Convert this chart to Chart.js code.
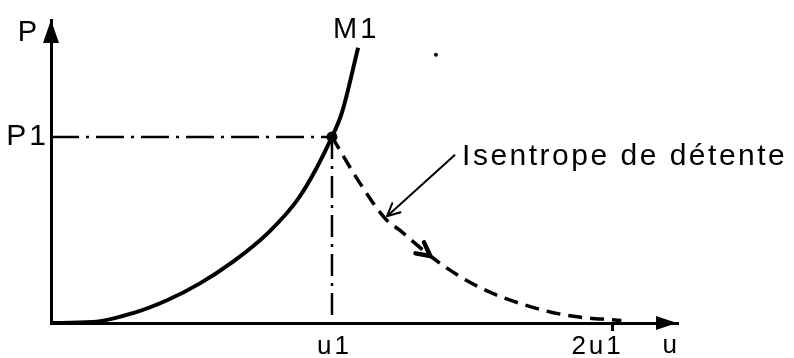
<!DOCTYPE html>
<html>
<head>
<meta charset="utf-8">
<style>
  html, body { margin: 0; padding: 0; background: #fff; }
  canvas { display: block; }
</style>
</head>
<body>
<canvas id="myChart" width="794" height="358"></canvas>
<script src="https://cdn.jsdelivr.net/npm/chart.js@4.4.0/dist/chart.umd.min.js"></script>
<script>
// u in units of u1, P in units of P1
const compU = [0, 0.149, 0.292, 0.413, 0.530, 0.648, 0.769, 0.886, 1.0, 1.036, 1.093];
const compP = [0, 0.005, 0.053, 0.122, 0.213, 0.330, 0.479, 0.681, 1.0, 1.133, 1.479];
const isenU = [1.0, 1.1, 1.19, 1.24, 1.35, 1.45, 1.57, 1.68, 1.78, 1.88, 1.99, 2.03];
const isenP = [1.0, 0.75, 0.56, 0.50, 0.36, 0.255, 0.16, 0.10, 0.058, 0.032, 0.018, 0.014];
const xTicks = [1, 2];
const xTickLabels = ['u1', '2u1'];
const yTicks = [1];
const yTickLabels = ['P1'];
const m1 = {u: 1, P: 1};
const noteFrom = {u: 1.438, P: 0.904};
const noteTo = {u: 1.196, P: 0.574};
const speck = {u: 1.37, P: 1.441};

const pts = (us, ps) => us.map((u, i) => ({x: u, y: ps[i]}));
const FONT = '"Liberation Sans", Arial, sans-serif';

function chevron(ctx, tx, ty, dx, dy, len, ang, width) {
    const a = Math.atan2(dy, dx);
    ctx.lineWidth = width;
    ctx.lineCap = 'round';
    ctx.lineJoin = 'round';
    ctx.beginPath();
    ctx.moveTo(tx - len * Math.cos(a - ang), ty - len * Math.sin(a - ang));
    ctx.lineTo(tx, ty);
    ctx.lineTo(tx - len * Math.cos(a + ang), ty - len * Math.sin(a + ang));
    ctx.stroke();
}

function tri(ctx, p) {
    ctx.beginPath();
    ctx.moveTo(p[0], p[1]);
    ctx.lineTo(p[2], p[3]);
    ctx.lineTo(p[4], p[5]);
    ctx.closePath();
    ctx.fill();
}

const overlay = {
    id: 'overlay',
    beforeDraw(chart) {
        chart.ctx.letterSpacing = '3px';
    },
    afterDraw(chart) {
        const {ctx, chartArea: a, scales: {x, y}} = chart;
        ctx.save();
        ctx.fillStyle = '#000';
        ctx.strokeStyle = '#000';
        // axis arrow heads
        const x0 = x.getPixelForValue(0), y0 = y.getPixelForValue(0);
        tri(ctx, [a.right, y0, a.right - 21, y0 - 7, a.right - 21, y0 + 7]);
        tri(ctx, [x0, a.top, x0 - 8, a.top + 23, x0 + 8, a.top + 23]);

        // arrow on the isentrope
        const k = 4;
        const tx = x.getPixelForValue(isenU[k]), ty = y.getPixelForValue(isenP[k]);
        const nx = x.getPixelForValue(isenU[k + 1]), ny = y.getPixelForValue(isenP[k + 1]);
        const px = x.getPixelForValue(isenU[k - 1]), py = y.getPixelForValue(isenP[k - 1]);
        chevron(ctx, tx, ty, nx - px, ny - py, 15, 0.48, 4.5);

        // annotation arrow head
        const ax = x.getPixelForValue(noteTo.u), ay = y.getPixelForValue(noteTo.P);
        const bx = x.getPixelForValue(noteFrom.u), by = y.getPixelForValue(noteFrom.P);
        chevron(ctx, ax, ay, ax - bx, ay - by, 14, 0.45, 2);

        // texts
        ctx.textBaseline = 'alphabetic';
        ctx.letterSpacing = '1px';
        ctx.font = '29px ' + FONT;
        ctx.textAlign = 'right';
        ctx.fillText('P', x0 - 13, a.top + 21);
        ctx.textAlign = 'left';
        ctx.letterSpacing = '3px';
        ctx.fillText('M1', x.getPixelForValue(1) + 1, a.top + 18);
        ctx.font = '30px ' + FONT;
        ctx.letterSpacing = '2.5px';
        ctx.fillText('Isentrope de détente', x.getPixelForValue(1.463), y.getPixelForValue(0.851));
        ctx.font = '26px ' + FONT;
        ctx.textAlign = 'right';
        ctx.letterSpacing = '0px';
        ctx.fillText('u', a.right, y0 + 30);
        ctx.restore();
    }
};

new Chart(document.getElementById('myChart').getContext('2d'), {
    type: 'scatter',
    data: {
        datasets: [
            {
                label: 'compression',
                data: pts(compU, compP),
                showLine: true,
                borderColor: '#000',
                borderWidth: 4,
                cubicInterpolationMode: 'monotone',
                pointRadius: 0
            },
            {
                label: 'isentrope',
                data: pts(isenU, isenP),
                showLine: true,
                borderColor: '#000',
                borderWidth: 3.5,
                borderDash: [14, 8],
                cubicInterpolationMode: 'monotone',
                pointRadius: 0
            },
            {
                label: 'P1',
                data: [{x: 0, y: m1.P}, {x: m1.u, y: m1.P}],
                showLine: true,
                borderColor: '#000',
                borderWidth: 2.5,
                borderDash: [28, 7, 3, 7],
                pointRadius: 0
            },
            {
                label: 'u1',
                data: [{x: m1.u, y: m1.P}, {x: m1.u, y: 0}],
                showLine: true,
                borderColor: '#000',
                borderWidth: 2.5,
                borderDash: [22, 7, 3, 7],
                pointRadius: 0
            },
            {
                label: 'note',
                data: [{x: noteFrom.u, y: noteFrom.P}, {x: noteTo.u, y: noteTo.P}],
                showLine: true,
                borderColor: '#000',
                borderWidth: 2,
                pointRadius: 0
            },
            {
                label: 'M1',
                data: [{x: m1.u, y: m1.P}, {x: speck.u, y: speck.P}],
                showLine: false,
                backgroundColor: '#000',
                borderWidth: 0,
                pointRadius: [5.5, 2]
            }
        ]
    },
    options: {
        responsive: false,
        animation: false,
        events: [],
        layout: {padding: {left: 0, right: 117, top: 17, bottom: 0}},
        plugins: {legend: {display: false}, tooltip: {enabled: false}},
        scales: {
            x: {
                type: 'linear',
                min: 0,
                max: 2.228,
                afterFit: s => { s.height = 35; },
                afterBuildTicks: s => { s.ticks = xTicks.map(v => ({value: v})); },
                grid: {
                    display: true,
                    drawOnChartArea: false,
                    drawTicks: true,
                    tickLength: 8,
                    lineWidth: 3,
                    color: c => (c.index === 1 ? '#000' : 'rgba(0,0,0,0)')
                },
                border: {display: true, color: '#000', width: 3},
                ticks: {
                    autoSkip: false,
                    maxRotation: 0,
                    padding: 0,
                    color: '#000',
                    font: {family: FONT, size: 26},
                    callback: (v) => {
                        const i = xTicks.indexOf(v);
                        return i === 0 ? '\u200a' + xTickLabels[i] : xTickLabels[i] + '\u00a0\u00a0\u00a0';
                    }
                }
            },
            y: {
                type: 'linear',
                min: 0,
                max: 1.628,
                afterFit: s => { s.width = 51; },
                afterBuildTicks: s => { s.ticks = yTicks.map(v => ({value: v})); },
                grid: {display: false, drawTicks: false},
                border: {display: true, color: '#000', width: 3},
                ticks: {
                    autoSkip: false,
                    padding: 2,
                    color: '#000',
                    font: {family: FONT, size: 30},
                    callback: (v) => yTickLabels[yTicks.indexOf(v)]
                }
            }
        }
    },
    plugins: [overlay]
});
</script>
</body>
</html>
